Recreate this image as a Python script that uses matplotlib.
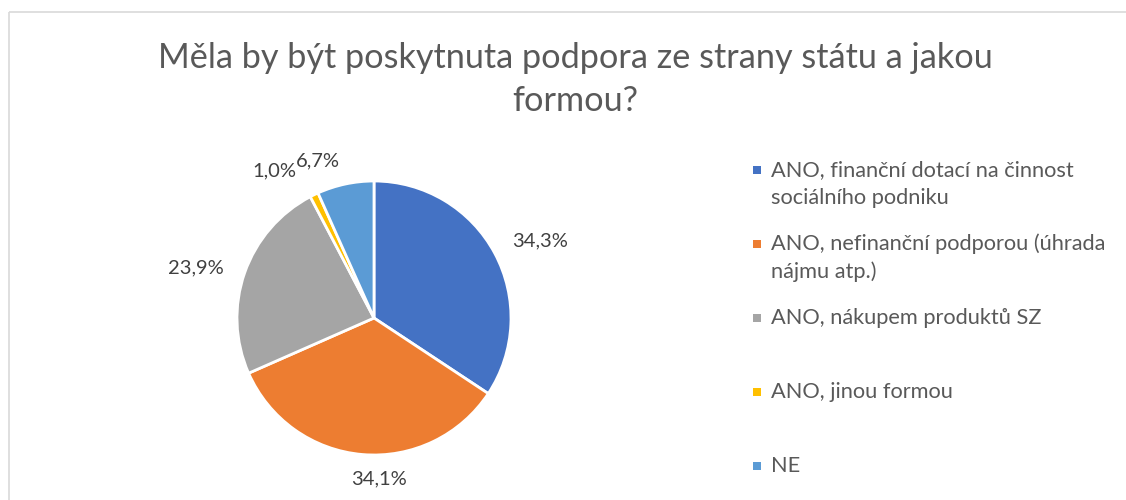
import matplotlib
matplotlib.use("Agg")
import matplotlib.pyplot as plt
from matplotlib.patches import Rectangle
import numpy as np

# ---- data ----
categories = [
    "ANO, finanční dotací na činnost\nsociálního podniku",
    "ANO, nefinanční podporou (úhrada\nnájmu atp.)",
    "ANO, nákupem produktů SZ",
    "ANO, jinou formou",
    "NE",
]
values = [34.3, 34.1, 23.9, 1.0, 6.7]
value_labels = ["34,3%", "34,1%", "23,9%", "1,0%", "6,7%"]
title_lines = ["Měla by být poskytnuta podpora ze strany státu a jakou", "formou?"]

# ---- style ----
colors = ["#4472C4", "#ED7D31", "#A5A5A5", "#FFC000", "#5B9BD5"]
FONT = ["Lato", "DejaVu Sans"]
plt.rcParams['font.family'] = FONT
W, H = 1126, 500

fig = plt.figure(figsize=(W / 100, H / 100), dpi=100)
ax = fig.add_axes([0, 0, 1, 1])
ax.set_xlim(0, W)
ax.set_ylim(0, H)
ax.set_aspect('equal')
ax.axis('off')

# chart border (top and left visible)
ax.plot([8.5, W], [H - 11.5, H - 11.5], color="#D9D9D9", lw=1.2, solid_capstyle='butt')
ax.plot([8.5, 8.5], [0, H - 11.5], color="#D9D9D9", lw=1.2, solid_capstyle='butt')

cx, cy, r = 374, H - 318, 137
wedges, _ = ax.pie(values, colors=colors, startangle=90, counterclock=False,
                   center=(cx, cy), radius=r,
                   wedgeprops=dict(edgecolor="white", linewidth=2))
ax.set_xlim(0, W)
ax.set_ylim(0, H)

# data labels
label_pos = [(540, 241), (379, 479), (196, 268), (274, 171), (318, 161)]
for (lx, ly), t in zip(label_pos, value_labels):
    ax.text(lx, H - ly, t, ha='center', va='center', fontsize=14.5, color="#404040")

# title
for i, line in enumerate(title_lines):
    ax.text(575, H - (58 + 43 * i), line, ha='center', va='center',
            fontsize=24.7, color="#595959")

# legend (manual)
for i, (lab, c) in enumerate(zip(categories, colors)):
    y0 = 170 + 74 * i
    ax.add_patch(Rectangle((753, H - y0 - 4), 8, 8, color=c, lw=0))
    for j, line in enumerate(lab.split("\n")):
        ax.text(771, H - (y0 + 28 * j), line, ha='left', va='center',
                fontsize=15.7, color="#595959")

fig.savefig("out.png", dpi=100)
